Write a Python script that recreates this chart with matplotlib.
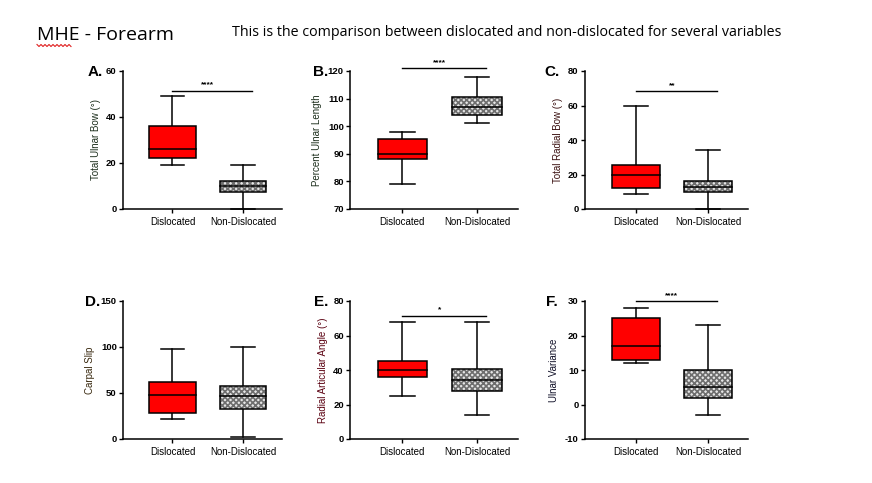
import numpy as np
from matplotlib import pyplot as plt
from matplotlib.patches import Rectangle

plt.rcParams['font.family'] = ['Liberation Sans', 'DejaVu Sans']
plt.rcParams['hatch.linewidth'] = 1.2
plt.rcParams['axes.unicode_minus'] = False

groups = ['Dislocated', 'Non-Dislocated']

# per panel: (whisker low, q1, median, q3, whisker high) for each group
panels = {
    'A.': [(19, 22, 26, 36, 49), (0, 7.5, 10, 12, 19)],
    'B.': [(79, 88, 90, 95.3, 98), (101, 104, 107, 110.7, 118)],
    'C.': [(8.5, 12, 20, 25.5, 59.5), (0, 10, 13, 16.5, 34)],
    'D.': [(22, 28, 47.5, 61.5, 98), (2, 33, 46.5, 58, 100)],
    'E.': [(25, 36, 40, 45, 68), (14, 28, 34, 40.5, 68)],
    'F.': [(12, 13, 17, 25, 28), (-3, 2, 5, 10, 23)],
}
ylabels = {'A.': 'Total Ulnar Bow (°)', 'B.': 'Percent Ulnar Length',
           'C.': 'Total Radial Bow (°)', 'D.': 'Carpal Slip',
           'E.': 'Radial Articular Angle (°)', 'F.': 'Ulnar Variance'}
label_colors = {'A.': '#1c2e1c', 'B.': '#1c2e1c', 'C.': '#3a1010',
                'D.': '#3a2a10', 'E.': '#5a0010', 'F.': '#101028'}
ylims = {'A.': (0, 60), 'B.': (70, 120), 'C.': (0, 80),
         'D.': (0, 150), 'E.': (0, 80), 'F.': (-10, 30)}
yticks = {'A.': [0, 20, 40, 60], 'B.': [70, 80, 90, 100, 110, 120],
          'C.': [0, 20, 40, 60, 80], 'D.': [0, 50, 100, 150],
          'E.': [0, 20, 40, 60, 80], 'F.': [-10, 0, 10, 20, 30]}
# significance bar height and stars
sig = {'A.': (51.5, '****'), 'B.': (121, '****'), 'C.': (68.5, '**'),
       'E.': (71.5, '*'), 'F.': (30, '****')}

W, H = 872, 483
fig = plt.figure(figsize=(W / 100, H / 100), dpi=100)

# axes rectangles in pixels: left, top, right, bottom
rects = {'A.': (123, 71, 282, 209), 'B.': (350, 71, 518, 209), 'C.': (585, 71, 748, 209),
         'D.': (123, 301, 282, 439), 'E.': (350, 301, 518, 439), 'F.': (585, 301, 748, 439)}
# right edge of the panel letters, pixels
letter_x = {'A.': 103, 'B.': 328, 'C.': 560, 'D.': 100, 'E.': 328, 'F.': 558}

for key, (l, t, r, b) in rects.items():
    ax = fig.add_axes([l / W, 1 - b / H, (r - l) / W, (b - t) / H])
    ax.set_xlim(0.3, 2.55)
    ax.set_ylim(*ylims[key])
    for i, (lo, q1, med, q3, hi) in enumerate(panels[key]):
        x = i + 1
        bw = 0.66
        if i == 0:
            box = Rectangle((x - bw / 2, q1), bw, q3 - q1, facecolor='#ff0000',
                            edgecolor='black', lw=1.1, zorder=3)
        else:
            box = Rectangle((x - bw / 2, q1), bw, q3 - q1, facecolor='#e6e6e6',
                            edgecolor='#6e6e6e', hatch='xxxxxx', lw=0, zorder=3)
            ax.add_patch(Rectangle((x - bw / 2, q1), bw, q3 - q1, fill=False,
                                   edgecolor='black', lw=1.1, zorder=4))
        ax.add_patch(box)
        ax.plot([x - bw / 2, x + bw / 2], [med, med], c='black', lw=1.1, zorder=5)
        ax.plot([x, x], [q3, hi], c='black', lw=1.1, zorder=2, clip_on=False)
        ax.plot([x, x], [lo, q1], c='black', lw=1.1, zorder=2, clip_on=False)
        ax.plot([x - bw / 4, x + bw / 4], [hi, hi], c='black', lw=1.1, clip_on=False)
        ax.plot([x - bw / 4, x + bw / 4], [lo, lo], c='black', lw=1.1, clip_on=False)
    if key in sig:
        y, stars = sig[key]
        ax.plot([1, 2.12], [y, y], c='black', lw=1, clip_on=False)
        span = ylims[key][1] - ylims[key][0]
        ax.text(1.5, y + span * 0.015, stars, ha='center', va='bottom',
                fontsize=6, fontweight='bold', clip_on=False)
    ax.spines['top'].set_visible(False)
    ax.spines['right'].set_visible(False)
    ax.spines['left'].set_linewidth(1.1)
    ax.spines['bottom'].set_linewidth(1.1)
    ax.set_yticks(yticks[key])
    ax.set_xticks([1, 2])
    ax.set_xticklabels(groups)
    ax.tick_params(axis='y', length=3, width=1, labelsize=6.8, pad=1.5)
    ax.tick_params(axis='x', length=3, width=1, labelsize=7, pad=3)
    for lab in ax.get_yticklabels():
        lab.set_fontweight('bold')
    ax.set_ylabel(ylabels[key], fontsize=7, color=label_colors[key], labelpad=4)
    fig.text(letter_x[key] / W, 1 - (t + 1) / H, key, fontsize=11, fontweight='bold',
             ha='right', va='center')

fig.text(37 / W, 1 - 35 / H, 'MHE - Forearm', fontsize=14, family=['Open Sans', 'DejaVu Sans'],
         ha='left', va='center')
fig.text(232 / W, 1 - 33 / H,
         'This is the comparison between dislocated and non-dislocated for several variables',
         fontsize=10.3, family=['Open Sans', 'DejaVu Sans'], ha='left', va='center')

# red spell-check squiggle under "MHE"
sx = np.arange(37, 72, 2)
sy = np.where(np.arange(len(sx)) % 2 == 0, 44.5, 46.5)
fig.add_artist(plt.Line2D(sx / W, 1 - sy / H, color='#e02020', lw=0.8))

fig.savefig('out.png', dpi=100)
